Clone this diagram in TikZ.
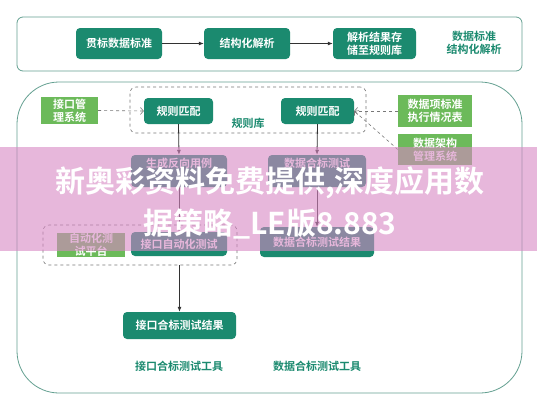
\documentclass[tikz,border=0pt]{standalone}
\usepackage{fontspec}
\setmainfont{Noto Sans CJK SC}[BoldFont={Noto Sans CJK SC Bold}]
\usetikzlibrary{arrows.meta}
\definecolor{tealc}{RGB}{27,138,111}
\definecolor{greenc}{RGB}{108,186,90}
\definecolor{framec}{RGB}{100,160,145}
\definecolor{arrowc}{RGB}{50,50,50}
\definecolor{dashc}{RGB}{120,120,120}
\definecolor{pinkc}{RGB}{215,135,195}
\tikzset{
  tealbox/.style={fill=tealc, rounded corners=4pt, text=white, font=\bfseries\fontsize{11}{13}\selectfont, align=center, inner sep=0pt},
  greenbox/.style={fill=greenc, text=white, font=\bfseries\fontsize{11}{13}\selectfont, align=center, inner sep=0pt},
  tealtext/.style={text=tealc, font=\bfseries\fontsize{11}{13}\selectfont, align=center, inner sep=0pt},
  frame/.style={draw=framec, line width=0.8pt, inner sep=0pt},
  dashframe/.style={draw=dashc, dashed, line width=0.6pt, rounded corners=6pt, inner sep=0pt},
  solidarrow/.style={draw=arrowc, line width=0.8pt, -{Latex[length=5pt,width=4pt]}},
  dasharrow/.style={draw=dashc, dashed, line width=0.6pt, -{Straight Barb[length=3pt,width=7pt]}},
}
\begin{document}
\begin{tikzpicture}[x=1pt,y=-1pt]
\useasboundingbox (0,0) rectangle (537,400);
\fill[white] (0,0) rectangle (537,400);
% frames
\node[frame, rounded corners=6pt, minimum width=505pt, minimum height=54pt] (topframe) at (269.5,44) {};
\node[frame, rounded corners=42pt, minimum width=505pt, minimum height=311pt] (bigframe) at (269.5,237.5) {};
% top row
\node[tealbox, minimum width=86pt, minimum height=31pt] (t1) at (119,43.5) {贯标数据标准};
\node[tealbox, minimum width=86pt, minimum height=31pt] (t2) at (247,43.5) {结构化解析};
\node[tealbox, minimum width=83pt, minimum height=31pt] (t3) at (374.5,43.5) {解析结果存\\储至规则库};
\node[tealtext] (tl) at (474,43) {数据标准\\结构化解析};
\draw[solidarrow] (t1.east) -- (t2.west);
\draw[solidarrow] (t2.east) -- (t3.west);
% rule library
\node[dashframe, minimum width=236pt, minimum height=46pt] (lib) at (248,110) {};
\node[tealtext] (libl) at (248,123) {规则库};
\node[tealbox, minimum width=69pt, minimum height=26pt] (m1) at (178.5,111) {规则匹配};
\node[tealbox, minimum width=73pt, minimum height=26pt] (m2) at (317.5,111) {规则匹配};
\node[greenbox, minimum width=57pt, minimum height=27pt] (g1) at (69.5,110.5) {接口管\\理系统};
\node[greenbox, minimum width=74pt, minimum height=32pt] (s1) at (435,111) {数据项标准\\执行情况表};
\node[greenbox, minimum width=74pt, minimum height=31pt] (s2) at (435,149.5) {数据架构\\管理系统};
\draw[dasharrow] (g1.east) -- (m1.west);
\draw[dasharrow] (s1.west) -- (m2.east);
\draw[dasharrow] (s2.west) -- (m2.east);
% second level
\node[tealbox, minimum width=96pt, minimum height=32pt] (c1) at (179,171) {};
\node[tealbox] (c1t) at (179,163.5) {生成反向用例};
\node[tealbox, minimum width=98pt, minimum height=32pt] (c2) at (317,171) {};
\node[tealbox] (c2t) at (317,163.5) {数据合标测试};
\draw[solidarrow] (m1.south) -- (c1.north);
\draw[solidarrow] (m2.south) -- (c2.north);
% automation
\node[dashframe, minimum width=194pt, minimum height=40pt] (auto) at (140,245) {};
\node[greenbox, minimum width=68pt, minimum height=24pt] (a1) at (91,245) {自动化测\\试平台};
\node[tealbox, minimum width=96pt, minimum height=24pt] (a2) at (179,244) {接口自动化测试};
\node[tealbox, minimum width=114pt, minimum height=30pt] (r2) at (317,242) {数据合标测试结果};
\draw[solidarrow] (c1.south) -- (a2.north);
\draw[solidarrow] (c2.south) -- (r2.north);
% results
\node[tealbox, minimum width=113pt, minimum height=27pt] (r1) at (179.5,325.5) {接口合标测试结果};
\draw[solidarrow] (r1.north |- auto.south) -- (r1.north);
\node[tealtext] (l1) at (179,366) {接口合标测试工具};
\node[tealtext] (l2) at (317,366) {数据合标测试工具};
% watermark band
\fill[pinkc, fill opacity=0.6] (0,147) rectangle (537,251);
\node[text=white, font=\bfseries\fontsize{30}{41.5}\selectfont, align=center, inner sep=0pt] (wm) at (270,203) {新奥彩资料免费提供,深度应用数\\据策略\_LE版8.883};
\end{tikzpicture}
\end{document}
